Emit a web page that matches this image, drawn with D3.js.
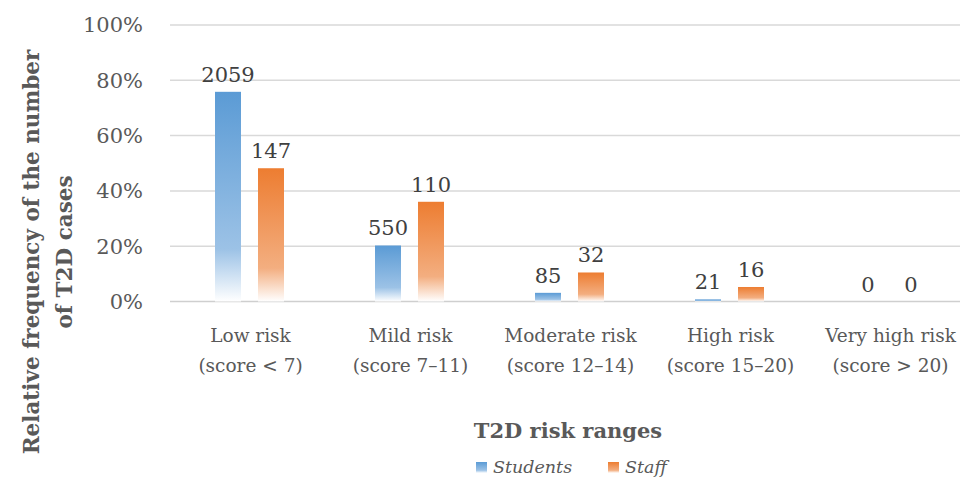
<!DOCTYPE html>
<html>
<head>
<meta charset="utf-8">
<script src="https://cdn.jsdelivr.net/npm/d3@7"></script>
<style>
  html, body { margin: 0; padding: 0; background: #fff; }
  svg { display: block; }
  svg text { font-family: "DejaVu Serif", "Liberation Serif", "Noto Serif", serif; }
</style>
</head>
<body>
<svg id="chart" width="960" height="483"></svg>
<script>
// Risk categories (two-line labels)
const categories = ["Low risk", "Mild risk", "Moderate risk", "High risk", "Very high risk"];
const categorySub = ["(score < 7)", "(score 7\u201311)", "(score 12\u201314)", "(score 15\u201320)", "(score > 20)"];
// Number of cases per category
const students = [2059, 550, 85, 21, 0];
const staff = [147, 110, 32, 16, 0];
const seriesNames = ["Students", "Staff"];
const yTicks = [0, 0.2, 0.4, 0.6, 0.8, 1.0];

const textColor = "#595959";

const svg = d3.select("#chart");

// Relative frequency of each category within its group
const totals = [d3.sum(students), d3.sum(staff)];
const data = categories.map((c, i) => ({
  cat: c,
  values: [
    { series: 0, count: students[i], rel: students[i] / totals[0] },
    { series: 1, count: staff[i], rel: staff[i] / totals[1] }
  ]
}));

const x = d3.scaleBand().domain(categories).range([169.5, 969.5]).padding(0);
const y = d3.scaleLinear().domain([0, 1]).range([301.5, 25]);

// Bar gradients: solid at the top, fading to white at the base
const defs = svg.append("defs");
const palettes = [
  ["#5b9bd5", "#9cc2e6", "#ffffff"],
  ["#ed7d31", "#f3ae80", "#ffffff"]
];
palettes.forEach((p, i) => {
  const g = defs.append("linearGradient")
    .attr("id", "grad" + i)
    .attr("x1", 0).attr("y1", 0).attr("x2", 0).attr("y2", 1);
  g.append("stop").attr("offset", "0%").attr("stop-color", p[0]);
  g.append("stop").attr("offset", "75%").attr("stop-color", p[1]);
  g.append("stop").attr("offset", "100%").attr("stop-color", p[2]);
});

// Gridlines
svg.append("g")
  .selectAll("line")
  .data(yTicks.filter(t => t > 0))
  .join("line")
  .attr("x1", 170).attr("x2", 960)
  .attr("y1", d => y(d)).attr("y2", d => y(d))
  .attr("stroke", "#d9d9d9").attr("stroke-width", 1.5);

// Baseline
svg.append("line")
  .attr("x1", 170).attr("x2", 960)
  .attr("y1", y(0)).attr("y2", y(0))
  .attr("stroke", "#cfcfcf").attr("stroke-width", 1.5);

// Y axis tick labels
svg.append("g")
  .selectAll("text")
  .data(yTicks)
  .join("text")
  .attr("x", 143)
  .attr("y", d => y(d))
  .attr("dy", "0.35em")
  .attr("text-anchor", "end")
  .style("font-size", "21px")
  .attr("fill", textColor)
  .text(d => d3.format(".0%")(d));

// Bars
const barW = 26;
const offsets = [-34.5, 8.5];
const groups = svg.append("g")
  .selectAll("g")
  .data(data)
  .join("g")
  .attr("transform", d => `translate(${x(d.cat) + x.bandwidth() / 2},0)`);

groups.selectAll("rect")
  .data(d => d.values)
  .join("rect")
  .attr("x", d => offsets[d.series])
  .attr("width", barW)
  .attr("y", d => y(d.rel))
  .attr("height", d => y(0) - y(d.rel))
  .attr("fill", d => `url(#grad${d.series})`);

// Count labels above bars
groups.selectAll("text.val")
  .data(d => d.values)
  .join("text")
  .attr("class", "val")
  .attr("x", d => offsets[d.series] + barW / 2)
  .attr("y", d => y(d.rel) - 10)
  .attr("text-anchor", "middle")
  .style("font-size", "21px")
  .attr("fill", "#404040")
  .text(d => d.count);

// Category labels
const catLabels = svg.append("g")
  .selectAll("text")
  .data(categories)
  .join("text")
  .attr("text-anchor", "middle")
  .style("font-size", "18.5px")
  .attr("fill", textColor)
  .attr("transform", d => `translate(${x(d) + x.bandwidth() / 2 + 1},0)`);
catLabels.append("tspan").attr("x", 0).attr("y", 342).text(d => d);
catLabels.append("tspan").attr("x", 0).attr("y", 372).text((d, i) => categorySub[i]);

// Axis titles
svg.append("text")
  .attr("x", 568).attr("y", 438)
  .attr("text-anchor", "middle")
  .style("font-size", "21px")
  .attr("font-weight", "bold")
  .attr("fill", textColor)
  .text("T2D risk ranges");

const yTitle = svg.append("text")
  .attr("transform", "translate(0,252) rotate(-90)")
  .attr("text-anchor", "middle")
  .style("font-size", "21.5px")
  .attr("font-weight", "bold")
  .attr("fill", textColor);
yTitle.append("tspan").attr("x", 0).attr("y", 39).text("Relative frequency of the number");
yTitle.append("tspan").attr("x", 0).attr("y", 72).text("of T2D cases");

// Legend
const legendX = [476, 608];
const legend = svg.append("g")
  .selectAll("g")
  .data(seriesNames)
  .join("g")
  .attr("transform", (d, i) => `translate(${legendX[i]},462)`);
legend.append("rect")
  .attr("width", 11).attr("height", 11)
  .attr("fill", (d, i) => `url(#grad${i})`);
legend.append("text")
  .attr("x", 17).attr("y", 11)
  .style("font-size", "17.5px")
  .attr("font-style", "italic")
  .attr("fill", textColor)
  .text(d => d);
</script>
</body>
</html>
